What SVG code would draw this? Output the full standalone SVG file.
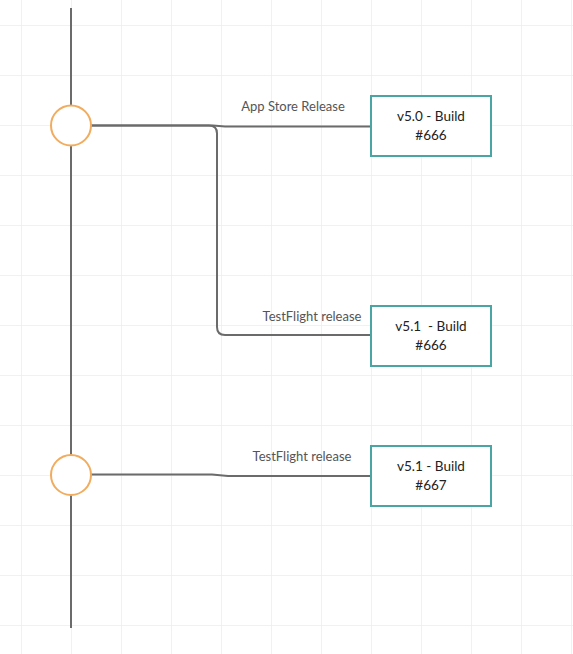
<svg xmlns="http://www.w3.org/2000/svg" width="573" height="654" viewBox="0 0 573 654">
<defs>
<pattern id="grid" x="21" y="25" width="50" height="50" patternUnits="userSpaceOnUse">
<path d="M0 0H50M0 0V50" fill="none" stroke="#ededed" stroke-width="1.5"/>
</pattern>
</defs>
<style>
.ln{fill:none;stroke:#6b6b6b;stroke-width:2}
.ev{fill:#fff;stroke:#f2ac5e;stroke-width:2}
.bx{fill:#fff;stroke:#4aa6a4;stroke-width:2}
.lbl{font-family:Lato,"Liberation Sans",sans-serif;font-size:13px;fill:#555;text-anchor:middle}
.bt{font-family:Lato,"Liberation Sans",sans-serif;font-size:13.5px;fill:#222;text-anchor:middle}
</style>
<rect width="573" height="654" fill="#fff"/>
<rect width="573" height="654" fill="url(#grid)"/>
<g id="connectors">
<path class="ln" d="M71 8V628"/>
<path class="ln" d="M91 125.5H213L225 126.5H371"/>
<path class="ln" d="M91 125.5H209Q217 125.5 217 133.5V327Q217 335 225 335H371"/>
<path class="ln" d="M91 474.5H212L228 476H371"/>
<text class="lbl" x="293" y="111">App Store Release</text>
<text class="lbl" x="312" y="321">TestFlight release</text>
<text class="lbl" x="302" y="461">TestFlight release</text>
</g>
<g id="event1"><circle class="ev" cx="71" cy="125.5" r="20"/></g>
<g id="event2"><circle class="ev" cx="71" cy="475" r="20"/></g>
<g id="build1">
<rect class="bx" x="371" y="96" width="120" height="60"/>
<text class="bt" x="431" y="121">v5.0 - Build</text>
<text class="bt" x="431" y="140">#666</text>
</g>
<g id="build2">
<rect class="bx" x="371" y="306" width="120" height="60"/>
<text class="bt" x="431" y="331" xml:space="preserve">v5.1  - Build</text>
<text class="bt" x="431" y="350">#666</text>
</g>
<g id="build3">
<rect class="bx" x="371" y="446" width="120" height="60"/>
<text class="bt" x="431" y="471">v5.1 - Build</text>
<text class="bt" x="431" y="490">#667</text>
</g>
</svg>
